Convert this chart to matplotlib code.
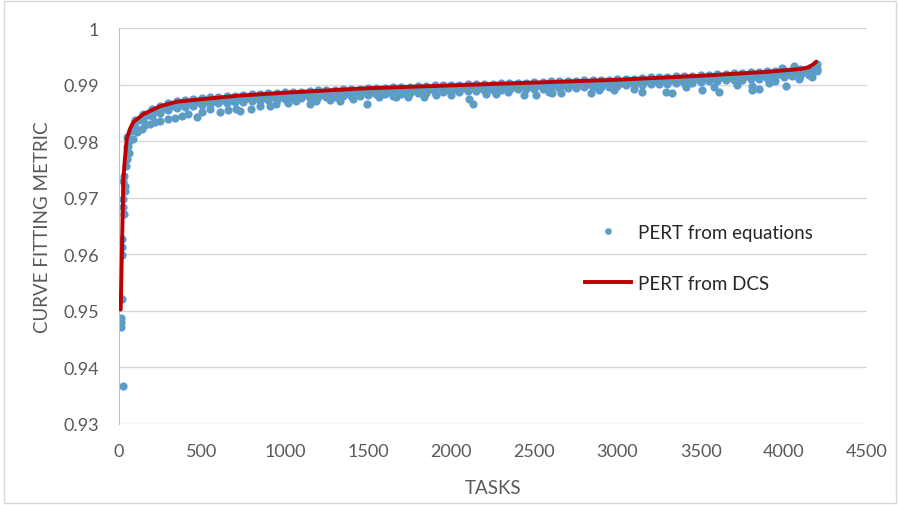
import matplotlib.pyplot as plt
import numpy as np
from matplotlib.lines import Line2D
from matplotlib.patches import Rectangle

# PERT from DCS (fitted curve)
dcs_tasks = [13, 19, 29, 39, 49, 69, 89, 149, 249, 349, 549, 729, 1000, 1500,
             2000, 2500, 3000, 3500, 3900, 4100, 4150, 4180, 4195]
dcs_vals = [0.9502, 0.9586, 0.9733, 0.9771, 0.9804, 0.9822, 0.9834, 0.9848,
            0.9862, 0.9870, 0.9876, 0.9881, 0.9886, 0.9894, 0.9899, 0.9904,
            0.9909, 0.9916, 0.9923, 0.9928, 0.9931, 0.9937, 0.9941]

# PERT from equations: the first few tasks, where the metric climbs fast
early_tasks = [13, 15, 17, 19, 19, 23, 23, 25, 29, 29, 29, 33, 35, 37, 39,
               45, 49, 55, 60, 65]
early_vals = [0.9472, 0.9488, 0.9480, 0.9521, 0.9627, 0.9613, 0.9599, 0.9683,
              0.9366, 0.9697, 0.9730, 0.9739, 0.9671, 0.9712, 0.9721, 0.9757,
              0.9769, 0.9792, 0.9780, 0.9800]

# main band, upper and lower edge (every 50 tasks)
band_tasks = np.arange(50, 4201, 50)
band_top = [
    0.9807, 0.9838, 0.9849, 0.9857, 0.9863, 0.9867, 0.9871, 0.9873, 0.9875, 0.9877,
    0.9878, 0.9879, 0.9880, 0.9881, 0.9882, 0.9883, 0.9884, 0.9885, 0.9886, 0.9887,
    0.9888, 0.9888, 0.9889, 0.9890, 0.9890, 0.9891, 0.9892, 0.9893, 0.9893, 0.9894,
    0.9895, 0.9895, 0.9896, 0.9896, 0.9897, 0.9898, 0.9898, 0.9899, 0.9899, 0.9900,
    0.9900, 0.9901, 0.9901, 0.9902, 0.9902, 0.9903, 0.9903, 0.9904, 0.9904, 0.9905,
    0.9905, 0.9906, 0.9906, 0.9907, 0.9907, 0.9908, 0.9908, 0.9909, 0.9909, 0.9910,
    0.9911, 0.9911, 0.9912, 0.9913, 0.9913, 0.9914, 0.9915, 0.9915, 0.9916, 0.9917,
    0.9918, 0.9919, 0.9920, 0.9921, 0.9921, 0.9922, 0.9923, 0.9924, 0.9925, 0.9926,
    0.9927, 0.9928, 0.9930, 0.9936]
band_low = [
    0.9790, 0.9825, 0.9837, 0.9844, 0.9850, 0.9855, 0.9859, 0.9861, 0.9863, 0.9865,
    0.9866, 0.9867, 0.9868, 0.9869, 0.9870, 0.9871, 0.9872, 0.9873, 0.9874, 0.9875,
    0.9876, 0.9876, 0.9877, 0.9878, 0.9878, 0.9879, 0.9880, 0.9881, 0.9881, 0.9882,
    0.9883, 0.9883, 0.9884, 0.9884, 0.9885, 0.9886, 0.9886, 0.9887, 0.9887, 0.9888,
    0.9888, 0.9889, 0.9889, 0.9890, 0.9890, 0.9891, 0.9891, 0.9892, 0.9892, 0.9893,
    0.9893, 0.9894, 0.9894, 0.9895, 0.9895, 0.9896, 0.9896, 0.9897, 0.9897, 0.9898,
    0.9899, 0.9899, 0.9900, 0.9901, 0.9901, 0.9902, 0.9903, 0.9903, 0.9904, 0.9905,
    0.9906, 0.9907, 0.9908, 0.9909, 0.9909, 0.9910, 0.9911, 0.9912, 0.9913, 0.9914,
    0.9915, 0.9916, 0.9918, 0.9925]

# middle of the band (every 50 tasks, between the edge samples)
mid_tasks = np.arange(75, 4176, 50)
band_mid = [
    0.9818, 0.9838, 0.9847, 0.9854, 0.9859, 0.9863, 0.9866, 0.9868, 0.9870, 0.9871,
    0.9872, 0.9873, 0.9874, 0.9875, 0.9876, 0.9877, 0.9878, 0.9879, 0.9880, 0.9881,
    0.9882, 0.9882, 0.9883, 0.9884, 0.9884, 0.9885, 0.9886, 0.9887, 0.9887, 0.9888,
    0.9889, 0.9889, 0.9890, 0.9890, 0.9891, 0.9892, 0.9892, 0.9893, 0.9893, 0.9894,
    0.9894, 0.9895, 0.9895, 0.9896, 0.9896, 0.9897, 0.9897, 0.9898, 0.9898, 0.9899,
    0.9899, 0.9900, 0.9900, 0.9901, 0.9901, 0.9902, 0.9902, 0.9903, 0.9903, 0.9904,
    0.9905, 0.9905, 0.9906, 0.9907, 0.9907, 0.9908, 0.9909, 0.9909, 0.9910, 0.9911,
    0.9912, 0.9913, 0.9914, 0.9915, 0.9915, 0.9916, 0.9917, 0.9918, 0.9919, 0.9920,
    0.9921, 0.9923, 0.9926]

# scattered tasks below (and a few above) the band
dip_tasks = [85, 109, 139, 159, 189, 219, 249, 299, 339, 379, 419, 469, 499,
             549, 609, 659, 709, 729, 799, 849, 909, 949, 1019, 1069, 1149,
             1189, 1269, 1329, 1409, 1496, 1569, 1649, 1669, 1739, 1839, 1909,
             1999, 2105, 2129, 2209, 2269, 2339, 2439, 2509, 2589, 2609, 2659,
             2839, 2889, 2979, 3099, 3149, 3289, 3329, 3409, 3509, 3579, 3609,
             3719, 3809, 3809, 3853, 3909, 3949, 3987, 4013, 4059, 4089, 4169,
             4199]
dip_vals = [0.9804, 0.9816, 0.9822, 0.9828, 0.9831, 0.9834, 0.9836, 0.9839,
            0.9842, 0.9845, 0.9848, 0.98425, 0.9851, 0.9857, 0.9851, 0.9856,
            0.9858, 0.9854, 0.9858, 0.9862, 0.9863, 0.9866, 0.9867, 0.9872,
            0.9866, 0.9872, 0.9874, 0.9872, 0.9875, 0.9866, 0.9878, 0.9881,
            0.9878, 0.9878, 0.9878, 0.9882, 0.9882, 0.9875, 0.9866, 0.9884,
            0.9884, 0.9887, 0.9882, 0.9882, 0.9887, 0.9885, 0.9885, 0.9885,
            0.9891, 0.9891, 0.9893, 0.9888, 0.9888, 0.9885, 0.9896, 0.9891,
            0.9896, 0.9888, 0.9900, 0.9898, 0.9891, 0.9893, 0.9904, 0.9906,
            0.9929, 0.9898, 0.9933, 0.9910, 0.9913, 0.9928]

eq_tasks = np.concatenate([early_tasks, band_tasks, band_tasks, mid_tasks, dip_tasks])
eq_vals = np.concatenate([early_vals, band_top, band_low, band_mid, dip_vals])
order = np.argsort(eq_tasks, kind="stable")
eq_tasks = eq_tasks[order]
eq_vals = eq_vals[order]

plt.rcParams["font.family"] = ["Lato", "DejaVu Sans"]
cinza = "#595959"
marcador = dict(linestyle="none", marker="o", markersize=3.8,
                markerfacecolor="#70AD47", markeredgecolor="#5B9BD5",
                markeredgewidth=2.1)

fig = plt.figure(figsize=(9, 5.06), dpi=100)
ax = fig.add_axes([0.1317, 0.1607, 0.8316, 0.7813])

ax.plot(eq_tasks, eq_vals, zorder=2, **marcador)
ax.plot(dcs_tasks, dcs_vals, color="#C00000", linewidth=2.8, zorder=3,
        solid_capstyle="round", solid_joinstyle="round")

ax.set_xlim(0, 4500)
ax.set_ylim(0.93, 1.0)
ax.set_xticks(np.arange(0, 4501, 500))
ax.set_yticks([0.93, 0.94, 0.95, 0.96, 0.97, 0.98, 0.99, 1.0])
ax.set_yticklabels(["0.93", "0.94", "0.95", "0.96", "0.97", "0.98", "0.99", "1"])
ax.grid(axis="y", color="#D9D9D9", linewidth=1.0)
ax.set_axisbelow(True)
ax.tick_params(length=0, labelsize=13, colors=cinza)
ax.tick_params(axis="y", pad=14)
ax.tick_params(axis="x", pad=14)
for lado in ["top", "right", "bottom"]:
    ax.spines[lado].set_visible(False)
ax.spines["left"].set_color("#BFBFBF")

ax.set_xlabel("TASKS", fontsize=13.5, color=cinza, labelpad=14)
ax.set_ylabel("CURVE FITTING METRIC", fontsize=13.5, color=cinza, labelpad=9)

handles = [
    Line2D([], [], linestyle="none", marker="o", markersize=3.2,
           markerfacecolor="#70AD47", markeredgecolor="#5B9BD5", markeredgewidth=1.6),
    Line2D([], [], color="#C00000", linewidth=2.8),
]
ax.legend(handles, ["PERT from equations", "PERT from DCS"], loc="upper left",
          bbox_to_anchor=(568 / 900, 1 - 208 / 506), bbox_transform=fig.transFigure,
          frameon=False, fontsize=13.5, labelspacing=1.8, handlelength=2.45,
          handletextpad=0.37, labelcolor="#262626")

fig.patches.append(Rectangle((0.004, 0.004), 0.992, 0.992, transform=fig.transFigure,
                             fill=False, edgecolor="#D9D9D9", linewidth=1.0))

fig.savefig("out.png", dpi=100)
